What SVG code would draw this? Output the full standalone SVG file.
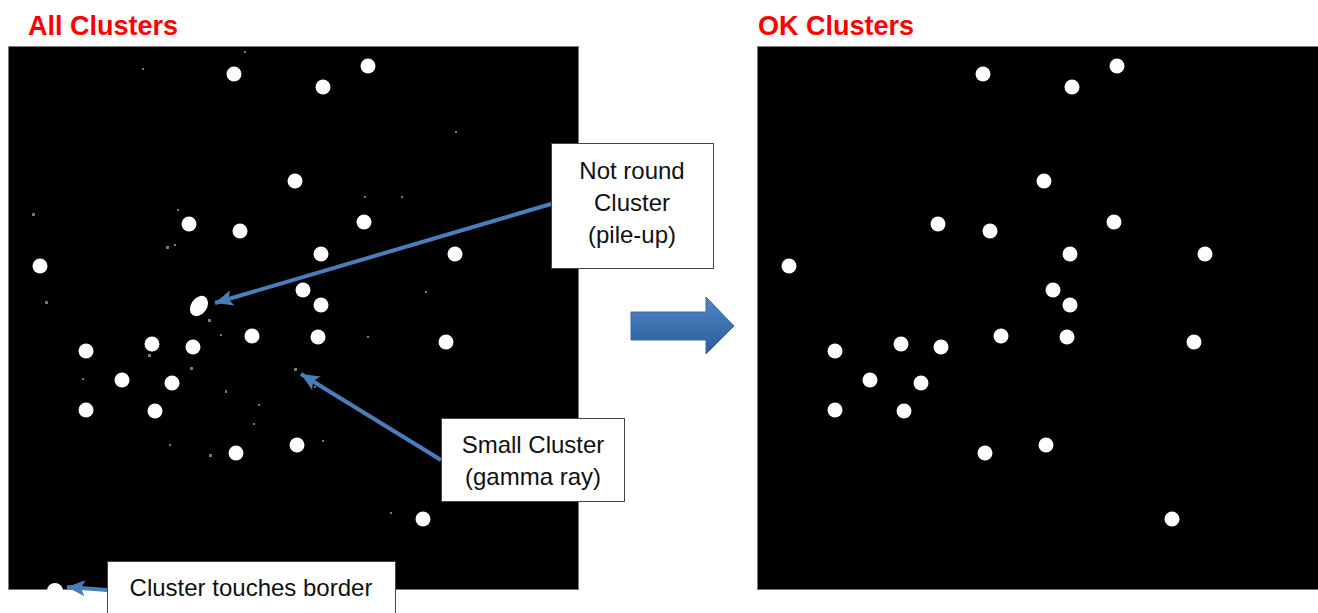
<svg xmlns="http://www.w3.org/2000/svg" width="1318" height="613" viewBox="0 0 1318 613">
<defs>
<style>
.title{font-family:"Liberation Sans",Arial,sans-serif;font-weight:bold;font-size:27px;fill:#ff0000}
.panel{fill:#000;stroke:#7a7a7a;stroke-width:1}
.dot{fill:#fff}
.speck{fill:#777}
.box{fill:#fff;stroke:#444;stroke-width:1}
.lbl{font-family:"Liberation Sans",Arial,sans-serif;font-size:24px;fill:#111;text-anchor:middle}
.conn{stroke:#4a7ebb;stroke-width:4;fill:none;marker-end:url(#ah)}
</style>
<marker id="ah" markerUnits="userSpaceOnUse" markerWidth="20" markerHeight="18" refX="18" refY="9" orient="auto">
<path d="M0,1 L18,9 L0,17 L4,9 Z" fill="#4a7ebb"/>
</marker>
<linearGradient id="bg" x1="0" y1="0" x2="0" y2="1">
<stop offset="0" stop-color="#4f86c8"/>
<stop offset="1" stop-color="#2c5c9a"/>
</linearGradient>
</defs>

<g id="title-all"><text class="title" x="28" y="35">All Clusters</text></g>
<g id="title-ok"><text class="title" x="758" y="35">OK Clusters</text></g>

<g id="panel-all">
<rect class="panel" x="8.5" y="46.5" width="570" height="543"/>
<g class="speck">
<rect x="142" y="68" width="2" height="2"/><rect x="244" y="51" width="2" height="2"/><rect x="455" y="131" width="2" height="2"/>
<rect x="32" y="213" width="3" height="3"/><rect x="177" y="209" width="2" height="2"/><rect x="166" y="246" width="3" height="3"/>
<rect x="174" y="244" width="2" height="2"/><rect x="45" y="301" width="3" height="3"/><rect x="364" y="196" width="2" height="2"/>
<rect x="208" y="319" width="3" height="3"/><rect x="148" y="354" width="3" height="3"/><rect x="190" y="367" width="3" height="3"/>
<rect x="82" y="378" width="2" height="2"/><rect x="225" y="390" width="2" height="3"/><rect x="258" y="404" width="2" height="2"/>
<rect x="253" y="423" width="2" height="2"/><rect x="169" y="444" width="2" height="2"/><rect x="209" y="454" width="3" height="3"/>
<rect x="220" y="334" width="2" height="2"/><rect x="294" y="368" width="3" height="3"/><rect x="314" y="386" width="2" height="2"/>
<rect x="322" y="440" width="2" height="2"/><rect x="390" y="512" width="2" height="2"/><rect x="401" y="196" width="2" height="2"/>
<rect x="425" y="291" width="2" height="2"/><rect x="367" y="336" width="2" height="2"/>
</g>
<g class="dot">
<circle cx="234" cy="74" r="7.5"/><circle cx="323" cy="87" r="7.5"/><circle cx="368" cy="66" r="7.5"/>
<circle cx="295" cy="181" r="7.5"/><circle cx="189" cy="224" r="7.5"/><circle cx="240" cy="231" r="7.5"/>
<circle cx="364" cy="222" r="7.5"/><circle cx="40" cy="266" r="7.5"/><circle cx="321" cy="254" r="7.5"/>
<circle cx="455" cy="254" r="7.5"/><ellipse cx="199" cy="306" rx="8" ry="11" transform="rotate(35 199 306)"/>
<circle cx="303" cy="290" r="7.5"/><circle cx="321" cy="305" r="7.5"/><circle cx="252" cy="336" r="7.5"/>
<circle cx="318" cy="337" r="7.5"/><circle cx="446" cy="342" r="7.5"/><circle cx="86" cy="351" r="7.5"/>
<circle cx="152" cy="344" r="7.5"/><circle cx="193" cy="347" r="7.5"/><circle cx="122" cy="380" r="7.5"/>
<circle cx="172" cy="383" r="7.5"/><circle cx="86" cy="410" r="7.5"/><circle cx="155" cy="411" r="7.5"/>
<circle cx="297" cy="445" r="7.5"/><circle cx="236" cy="453" r="7.5"/><circle cx="423" cy="519" r="7.5"/>
<circle cx="55" cy="591" r="8"/>
</g>
</g>

<g id="panel-ok">
<rect class="panel" x="757.5" y="46.5" width="565" height="543"/>
<g class="dot">
<circle cx="983" cy="74" r="7.5"/><circle cx="1072" cy="87" r="7.5"/><circle cx="1117" cy="66" r="7.5"/>
<circle cx="1044" cy="181" r="7.5"/><circle cx="938" cy="224" r="7.5"/><circle cx="990" cy="231" r="7.5"/>
<circle cx="1114" cy="222" r="7.5"/><circle cx="789" cy="266" r="7.5"/><circle cx="1070" cy="254" r="7.5"/>
<circle cx="1205" cy="254" r="7.5"/><circle cx="1053" cy="290" r="7.5"/><circle cx="1070" cy="305" r="7.5"/>
<circle cx="1001" cy="336" r="7.5"/><circle cx="1067" cy="337" r="7.5"/><circle cx="1194" cy="342" r="7.5"/>
<circle cx="835" cy="351" r="7.5"/><circle cx="901" cy="344" r="7.5"/><circle cx="941" cy="347" r="7.5"/>
<circle cx="870" cy="380" r="7.5"/><circle cx="921" cy="383" r="7.5"/><circle cx="835" cy="410" r="7.5"/>
<circle cx="904" cy="411" r="7.5"/><circle cx="1046" cy="445" r="7.5"/><circle cx="985" cy="453" r="7.5"/>
<circle cx="1172" cy="519" r="7.5"/>
</g>
</g>

<g id="big-arrow">
<path d="M631,312 L706,312 L706,297 L734,326 L706,354 L706,340 L631,340 Z" fill="url(#bg)" stroke="#3a6aa8" stroke-width="1"/>
</g>

<g id="connectors">
<line class="conn" x1="551" y1="204" x2="215" y2="303"/>
<line class="conn" x1="441" y1="460" x2="301" y2="374"/>
<line class="conn" x1="107" y1="590" x2="67" y2="587"/>
</g>

<g id="label-notround">
<rect class="box" x="551.5" y="143.5" width="162" height="125"/>
<text class="lbl" x="632" y="179">Not round</text>
<text class="lbl" x="632" y="211">Cluster</text>
<text class="lbl" x="632" y="243">(pile-up)</text>
</g>

<g id="label-small">
<rect class="box" x="441.5" y="418.5" width="183" height="83"/>
<text class="lbl" x="533" y="453">Small Cluster</text>
<text class="lbl" x="533" y="485">(gamma ray)</text>
</g>

<g id="label-border">
<rect class="box" x="107.5" y="561.5" width="288" height="60"/>
<text class="lbl" x="251" y="596">Cluster touches border</text>
</g>
</svg>
